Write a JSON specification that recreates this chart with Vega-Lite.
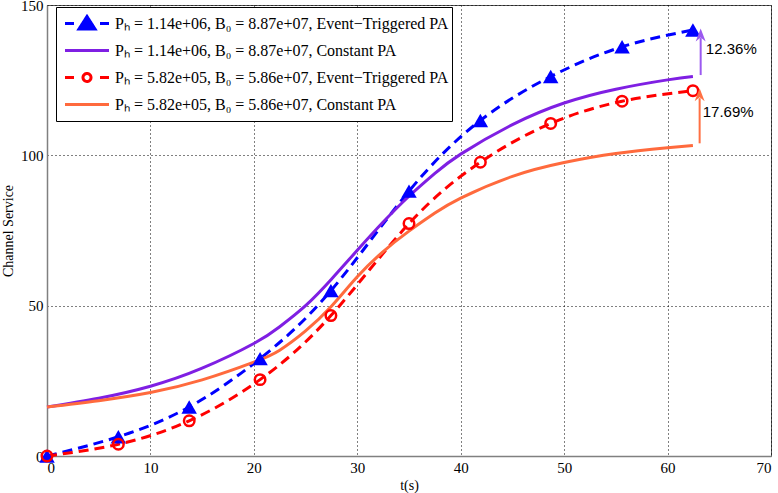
{
  "$schema": "https://vega.github.io/schema/vega-lite/v6.json",
  "width": 724,
  "height": 451,
  "autosize": "none",
  "padding": {"left": 47, "top": 5, "right": 7, "bottom": 37},
  "background": "white",
  "config": {
    "view": {"stroke": "#555555", "strokeWidth": 1},
    "axis": {
      "labelFont": "Liberation Serif",
      "labelFontSize": 15,
      "labelColor": "black",
      "titleFont": "Liberation Serif",
      "titleFontSize": 14,
      "titleFontWeight": "normal",
      "titleColor": "black",
      "domainColor": "#808080",
      "domainWidth": 1.5,
      "ticks": false,
      "grid": true,
      "gridColor": "black",
      "gridDash": [1, 3],
      "gridOpacity": 1,
      "gridWidth": 1
    }
  },
  "datasets": {
    "curves": [
      {"series": "A", "t": 0, "v": 0},
      {"series": "A", "t": 6.9, "v": 6.4},
      {"series": "A", "t": 13.75, "v": 16.3},
      {"series": "A", "t": 20.6, "v": 32.4},
      {"series": "A", "t": 27.45, "v": 55.0},
      {"series": "A", "t": 35.0, "v": 88.1},
      {"series": "A", "t": 41.9, "v": 111.6},
      {"series": "A", "t": 48.7, "v": 126.2},
      {"series": "A", "t": 55.6, "v": 136.1},
      {"series": "A", "t": 62.45, "v": 141.7},
      {"series": "B", "t": 0, "v": 16.3},
      {"series": "B", "t": 5, "v": 19.2},
      {"series": "B", "t": 10, "v": 23.2},
      {"series": "B", "t": 15, "v": 29.2},
      {"series": "B", "t": 20, "v": 37.4},
      {"series": "B", "t": 22.5, "v": 43.0},
      {"series": "B", "t": 25, "v": 50.0},
      {"series": "B", "t": 27.5, "v": 58.8},
      {"series": "B", "t": 30, "v": 68.4},
      {"series": "B", "t": 32.5, "v": 77.8},
      {"series": "B", "t": 35, "v": 86.4},
      {"series": "B", "t": 37.5, "v": 94.0},
      {"series": "B", "t": 40, "v": 100.4},
      {"series": "B", "t": 45, "v": 110.2},
      {"series": "B", "t": 50, "v": 117.4},
      {"series": "B", "t": 55, "v": 122.0},
      {"series": "B", "t": 60, "v": 125.1},
      {"series": "B", "t": 62.45, "v": 126.2},
      {"series": "C", "t": 0, "v": 0},
      {"series": "C", "t": 6.9, "v": 3.9},
      {"series": "C", "t": 13.75, "v": 11.7},
      {"series": "C", "t": 20.6, "v": 25.4},
      {"series": "C", "t": 27.45, "v": 46.7},
      {"series": "C", "t": 35.0, "v": 77.3},
      {"series": "C", "t": 41.9, "v": 97.7},
      {"series": "C", "t": 48.7, "v": 110.6},
      {"series": "C", "t": 55.6, "v": 118.0},
      {"series": "C", "t": 62.45, "v": 121.5},
      {"series": "D", "t": 0, "v": 16.3},
      {"series": "D", "t": 5, "v": 18.4},
      {"series": "D", "t": 10, "v": 21.1},
      {"series": "D", "t": 15, "v": 25.3},
      {"series": "D", "t": 20, "v": 31.2},
      {"series": "D", "t": 22.5, "v": 35.2},
      {"series": "D", "t": 25, "v": 41.6},
      {"series": "D", "t": 27.5, "v": 49.8},
      {"series": "D", "t": 30, "v": 59.6},
      {"series": "D", "t": 32.5, "v": 68.0},
      {"series": "D", "t": 35, "v": 74.8},
      {"series": "D", "t": 37.5, "v": 80.8},
      {"series": "D", "t": 40, "v": 85.8},
      {"series": "D", "t": 45, "v": 93.0},
      {"series": "D", "t": 50, "v": 97.6},
      {"series": "D", "t": 55, "v": 100.6},
      {"series": "D", "t": 60, "v": 102.5},
      {"series": "D", "t": 62.45, "v": 103.3}
    ],
    "notes": [
      {"t": 63.7, "v": 135.5, "label": "12.36%"},
      {"t": 63.4, "v": 114.4, "label": "17.69%"}
    ]
  },
  "layer": [
    {
      "data": {"name": "curves"},
      "transform": [{"filter": "datum.series == 'A' || datum.series == 'C'"}],
      "mark": {"type": "line", "strokeWidth": 3, "strokeDash": [10, 6], "interpolate": "natural"},
      "encoding": {
        "x": {"field": "t", "type": "quantitative", "title": "t(s)",
              "scale": {"domain": [0, 70], "nice": false},
              "axis": {"values": [0, 10, 20, 30, 40, 50, 60, 70], "labelPadding": 4, "titlePadding": 3}},
        "y": {"field": "v", "type": "quantitative", "title": "Channel Service",
              "scale": {"domain": [0, 150], "nice": false},
              "axis": {"values": [0, 50, 100, 150], "labelPadding": 4, "titlePadding": 5}},
        "color": {"field": "series", "type": "nominal",
                  "scale": {"domain": ["A", "B", "C", "D"], "range": ["#0000ff", "#7f1fe3", "#ff0000", "#ff6a3d"]},
                  "legend": {
                    "title": null,
                    "orient": "none",
                    "legendX": 9,
                    "legendY": 2,
                    "fillColor": "white",
                    "strokeColor": "black",
                    "padding": 3,
                    "labelFont": "Liberation Serif",
                    "labelFontSize": 16,
                    "labelColor": "black",
                    "labelLimit": 0,
                    "symbolSize": 100,
                    "symbolOffset": 20,
                    "labelOffset": 20,
                    "clipHeight": 27,
                    "rowPadding": 0,
                    "symbolStrokeWidth": 3,
                    "labelExpr": "datum.value == 'A' ? 'Pₕ = 1.14e+06, B₀ = 8.87e+07, Event−Triggered PA' : datum.value == 'B' ? 'Pₕ = 1.14e+06, B₀ = 8.87e+07, Constant PA' : datum.value == 'C' ? 'Pₕ = 5.82e+05, B₀ = 5.86e+07, Event−Triggered PA' : 'Pₕ = 5.82e+05, B₀ = 5.86e+07, Constant PA'",
                    "encode": {
                      "symbols": {
                        "update": {
                          "shape": {"signal": "datum.value == 'A' ? 'M-4.4,0H-2.6M2.6,0H4.4M0,-1.4L1.6,1.1L-1.6,1.1Z' : datum.value == 'C' ? 'M-4.4,0H-2.6M2.6,0H4.4M0.8,0A0.8,0.8 0 1,1 -0.8,0A0.8,0.8 0 1,1 0.8,0Z' : 'M-4.4,0H4.4'"},
                          "fill": {"signal": "datum.value == 'A' ? '#0000ff' : 'transparent'"},
                          "stroke": {"signal": "datum.value == 'A' ? '#0000ff' : datum.value == 'B' ? '#7f1fe3' : datum.value == 'C' ? '#ff0000' : '#ff6a3d'"},
                          "strokeWidth": {"value": 3},
                          "strokeDash": {"value": [1, 0]},
                          "opacity": {"value": 1},
                          "size": {"value": 100}
                        }
                      }
                    }
                  }}
      }
    },
    {
      "data": {"name": "curves"},
      "transform": [{"filter": "datum.series == 'B' || datum.series == 'D'"}],
      "mark": {"type": "line", "strokeWidth": 3, "interpolate": "natural"},
      "encoding": {
        "x": {"field": "t", "type": "quantitative"},
        "y": {"field": "v", "type": "quantitative"},
        "color": {"field": "series", "type": "nominal"}
      }
    },
    {
      "data": {"name": "curves"},
      "transform": [{"filter": "datum.series == 'A'"}],
      "mark": {"type": "point", "shape": "triangle-up", "filled": true, "color": "#0000ff", "size": 240, "opacity": 1},
      "encoding": {
        "x": {"field": "t", "type": "quantitative"},
        "y": {"field": "v", "type": "quantitative"}
      }
    },
    {
      "data": {"name": "curves"},
      "transform": [{"filter": "datum.series == 'C'"}],
      "mark": {"type": "point", "shape": "circle", "filled": false, "color": "#ff0000", "strokeWidth": 2.5, "size": 110, "opacity": 1},
      "encoding": {
        "x": {"field": "t", "type": "quantitative"},
        "y": {"field": "v", "type": "quantitative"}
      }
    },
    {
      "data": {"values": [{}]},
      "mark": {"type": "rule", "color": "#9b59f0", "strokeWidth": 2},
      "encoding": {"x": {"datum": 63.2}, "y": {"datum": 126.7}, "y2": {"datum": 139}}
    },
    {
      "data": {"values": [{}]},
      "mark": {"type": "point", "shape": "M0,0L1,2.6L0,1.8L-1,2.6Z", "filled": true, "color": "#9b59f0", "size": 100, "opacity": 1},
      "encoding": {"x": {"datum": 63.2}, "y": {"datum": 142.2}}
    },
    {
      "data": {"values": [{}]},
      "mark": {"type": "rule", "color": "#ff7043", "strokeWidth": 2},
      "encoding": {"x": {"datum": 63.1}, "y": {"datum": 104}, "y2": {"datum": 119}}
    },
    {
      "data": {"values": [{}]},
      "mark": {"type": "point", "shape": "M0,0L1,2.6L0,1.8L-1,2.6Z", "filled": true, "color": "#ff7043", "size": 100, "opacity": 1},
      "encoding": {"x": {"datum": 63.1}, "y": {"datum": 122.3}}
    },
    {
      "data": {"name": "notes"},
      "mark": {"type": "text", "font": "Liberation Sans", "fontSize": 15, "align": "left", "baseline": "middle", "color": "black"},
      "encoding": {
        "x": {"field": "t", "type": "quantitative"},
        "y": {"field": "v", "type": "quantitative"},
        "text": {"field": "label"}
      }
    }
  ]
}
